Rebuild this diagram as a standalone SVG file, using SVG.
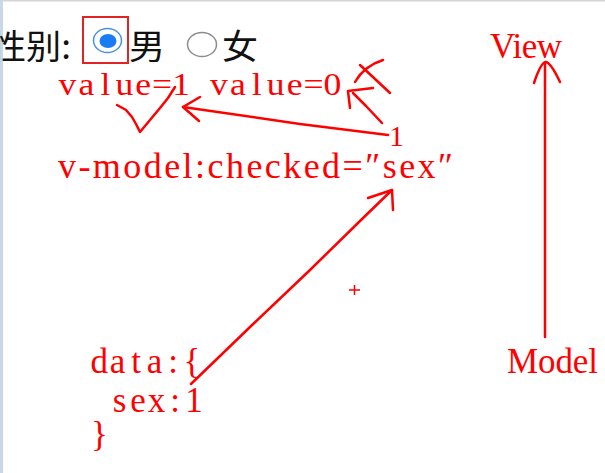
<svg xmlns="http://www.w3.org/2000/svg" width="605" height="473" viewBox="0 0 605 473">
<style>
.cjk{font-family:"Noto Sans CJK SC","Noto Sans",sans-serif;fill:#111;font-size:34px}
.red{font-family:"Liberation Serif","DejaVu Serif",serif;fill:#ff0000}
.mono{text-anchor:middle}
.pen{fill:none;stroke:#ff0000;stroke-width:2.5;stroke-linecap:round;stroke-linejoin:round}
</style>
<rect x="0" y="0" width="605" height="473" fill="#ffffff"/>
<rect x="0" y="0" width="3" height="473" fill="#c9d7e6"/>
<rect x="0" y="0" width="605" height="1.5" fill="#d4d4d4"/>

<g id="label-gender">
<text class="cjk" x="-9" y="59" textLength="80" lengthAdjust="spacingAndGlyphs">性别:</text>
</g>
<g id="radio-male">
<rect x="83" y="17" width="45" height="46" fill="none" stroke="#e02424" stroke-width="2"/>
<ellipse cx="107.5" cy="40.5" rx="14" ry="12" fill="#fff" stroke="#4a90e2" stroke-width="1.5"/>
<ellipse cx="108" cy="41" rx="8.5" ry="7" fill="#1a7cf5"/>
<text class="cjk" x="129" y="59" textLength="36" lengthAdjust="spacingAndGlyphs">男</text>
</g>
<g id="radio-female">
<ellipse cx="202" cy="44.5" rx="14.5" ry="12" fill="#fff" stroke="#8c8c8c" stroke-width="1.5"/>
<text class="cjk" x="222" y="59" textLength="36" lengthAdjust="spacingAndGlyphs">女</text>
</g>

<g id="values" transform="scale(1.15,1)">
<text class="red mono" y="95" font-size="31" x="58.7 75.1 91.7 108.1 124.5 141 157.5 173.9 190.3 206.9 223.3 239.7 256.3 272.7 289.1">value=1 value=0</text>
</g>
<g id="vmodel">
<text class="red" x="58" y="178" font-size="36" textLength="395" lengthAdjust="spacing">v-model:checked=″sex″</text>
</g>
<g id="one">
<text class="red" x="389" y="146" font-size="30">1</text>
</g>
<g id="view">
<text class="red" x="490" y="58" font-size="35" textLength="72" lengthAdjust="spacing">View</text>
</g>
<g id="model">
<text class="red" x="507" y="373" font-size="35" textLength="91" lengthAdjust="spacing">Model</text>
</g>
<g id="data">
<text class="red mono" y="373" font-size="35" x="99.2 117.5 136 154.5 173 192">data:{</text>
<text class="red mono" y="412" font-size="35" x="119.5 138 156.5 175 194">sex:1</text>
<text class="red" x="91" y="446" font-size="35">}</text>
</g>

<g id="connectors">
<!-- checkmark -->
<polyline class="pen" points="117,105 126,110 132,117 136,124 140,132 150,120 160,108 168,98 175,87"/>
<!-- arrow 1 -> value=1 -->
<polyline class="pen" points="388,135 300,124 183,107"/>
<polyline class="pen" points="200,97 183,107 199,121"/>
<!-- arrow 1 -> value=0 -->
<polyline class="pen" points="382,123 366,106 353,93"/>
<polyline class="pen" points="350,108 348,91 373,88"/>
<!-- X mark -->
<path class="pen" d="M360,65 L374,78 L390,93"/>
<path class="pen" d="M355,82 Q364,66 383,60"/>
<!-- data sex:1 -> sex -->
<polyline class="pen" points="191,384 250,327 310,270 360,221 392,190"/>
<polyline class="pen" points="368,198 392,190 393,210"/>
<!-- plus -->
<path d="M349,290 H360 M354.5,285 V295" stroke="#ff0000" stroke-width="1.5" fill="none"/>
<!-- Model -> View -->
<line class="pen" x1="545" y1="337" x2="545" y2="63" stroke-width="2"/>
<path class="pen" d="M534,83 Q541,62 546,62 Q551,63 560,82"/>
</g>
</svg>
